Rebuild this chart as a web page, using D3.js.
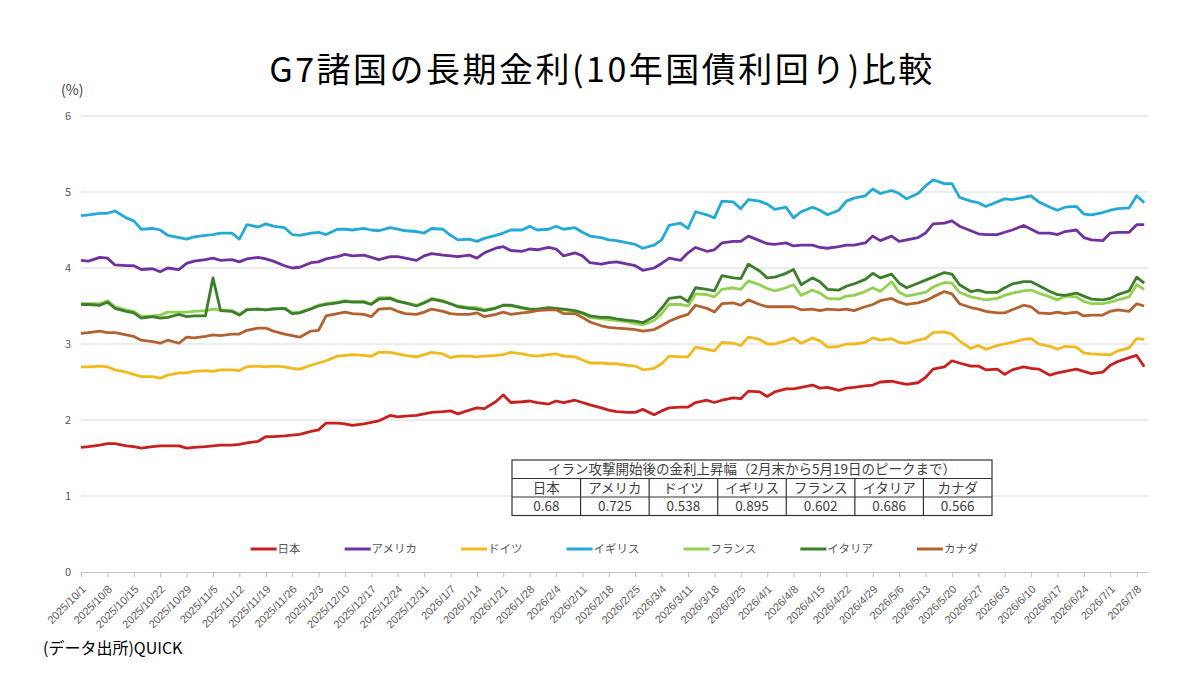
<!DOCTYPE html>
<html>

<head>
	<meta charset="utf-8">
	<script src="https://cdn.jsdelivr.net/npm/d3@7"></script>
	<style>
		body {
			margin: 0;
			background: #fff;
		}

		svg {
			display: block;
			font-family: "Noto Sans CJK JP", "Noto Sans", sans-serif;
		}

		.grid line {
			stroke: #d9d9d9;
			stroke-width: 1;
		}

		.axis text {
			fill: #595959;
			font-size: 11px;
		}

		.line {
			fill: none;
			stroke-width: 2.8;
			stroke-linejoin: round;
		}
	</style>
</head>

<body>
	<svg></svg>
	<script>
		// 月・水・金ごとの読み取り値 (2025/10/1 〜 2026/7/10)
		var japan = [1.64, 1.65,
			1.67, 1.69, 1.69, 1.66, 1.65, 1.63, 1.65, 1.66, 1.66, 1.66, 1.63, 1.64,
			1.65, 1.66, 1.67, 1.67, 1.68, 1.70, 1.72, 1.78, 1.78, 1.79, 1.80, 1.81,
			1.85, 1.87, 1.96, 1.96, 1.95, 1.93, 1.95, 1.97, 1.99, 2.06, 2.04, 2.05,
			2.06, 2.08, 2.10, 2.11, 2.12, 2.08, 2.13, 2.16, 2.15, 2.24, 2.33, 2.23,
			2.24, 2.25, 2.23, 2.21, 2.25, 2.23, 2.26, 2.23, 2.20, 2.16, 2.13, 2.11,
			2.10, 2.10, 2.14, 2.07, 2.12, 2.16, 2.17, 2.17, 2.23, 2.26, 2.23, 2.26,
			2.29, 2.28, 2.38, 2.37, 2.31, 2.37, 2.41, 2.41, 2.43, 2.46, 2.42, 2.43,
			2.39, 2.42, 2.43, 2.45, 2.46, 2.50, 2.51, 2.49, 2.47, 2.49, 2.56, 2.67,
			2.70, 2.78, 2.75, 2.71, 2.71, 2.66, 2.67, 2.60, 2.66, 2.70, 2.68, 2.67,
			2.59, 2.62, 2.64, 2.67, 2.64, 2.61, 2.63, 2.72, 2.77, 2.82, 2.85, 2.70];
		var usa = [4.10, 4.09,
			4.14, 4.13, 4.04, 4.03, 4.03, 3.98, 3.99, 3.95, 4.00, 3.98, 4.06, 4.09,
			4.11, 4.13, 4.10, 4.11, 4.08, 4.12, 4.14, 4.12, 4.09, 4.03, 4.00, 4.01,
			4.07, 4.08, 4.12, 4.15, 4.18, 4.16, 4.17, 4.14, 4.11, 4.15, 4.15, 4.13,
			4.10, 4.16, 4.19, 4.17, 4.16, 4.15, 4.17, 4.13, 4.20, 4.26, 4.28, 4.23,
			4.22, 4.25, 4.24, 4.27, 4.25, 4.16, 4.20, 4.16, 4.07, 4.05, 4.07, 4.08,
			4.05, 4.03, 3.97, 4.00, 4.06, 4.13, 4.10, 4.20, 4.27, 4.22, 4.24, 4.33,
			4.35, 4.35, 4.42, 4.36, 4.32, 4.31, 4.33, 4.29, 4.30, 4.30, 4.27, 4.26,
			4.28, 4.30, 4.30, 4.33, 4.42, 4.36, 4.42, 4.35, 4.37, 4.40, 4.46, 4.58,
			4.59, 4.62, 4.55, 4.49, 4.45, 4.44, 4.44, 4.47, 4.50, 4.56, 4.51, 4.46,
			4.46, 4.44, 4.48, 4.50, 4.40, 4.37, 4.36, 4.46, 4.47, 4.47, 4.57, 4.57];
		var germany = [2.70, 2.70,
			2.71, 2.70, 2.66, 2.63, 2.60, 2.57, 2.57, 2.55, 2.59, 2.62, 2.62, 2.64,
			2.65, 2.64, 2.66, 2.66, 2.65, 2.70, 2.71, 2.70, 2.71, 2.70, 2.68, 2.67,
			2.72, 2.75, 2.78, 2.84, 2.85, 2.86, 2.85, 2.84, 2.89, 2.89, 2.87, 2.85,
			2.83, 2.86, 2.89, 2.87, 2.82, 2.84, 2.84, 2.83, 2.84, 2.85, 2.86, 2.89,
			2.87, 2.85, 2.84, 2.86, 2.87, 2.84, 2.83, 2.79, 2.75, 2.75, 2.74, 2.74,
			2.72, 2.71, 2.66, 2.68, 2.74, 2.84, 2.83, 2.83, 2.96, 2.93, 2.91, 3.02,
			3.01, 2.98, 3.09, 3.06, 3.00, 3.00, 3.04, 3.08, 3.01, 3.08, 3.04, 2.96,
			2.97, 3.00, 3.00, 3.02, 3.08, 3.05, 3.07, 3.02, 3.01, 3.05, 3.07, 3.15,
			3.16, 3.13, 3.04, 2.94, 2.98, 2.93, 2.98, 3.00, 3.02, 3.06, 3.07, 3.00,
			2.97, 2.93, 2.97, 2.96, 2.88, 2.87, 2.86, 2.86, 2.91, 2.95, 3.07, 3.06];
		var uk = [4.69, 4.70,
			4.72, 4.72, 4.75, 4.66, 4.62, 4.51, 4.52, 4.50, 4.43, 4.40, 4.38, 4.41,
			4.43, 4.44, 4.46, 4.46, 4.38, 4.57, 4.54, 4.58, 4.55, 4.53, 4.44, 4.43,
			4.46, 4.47, 4.44, 4.51, 4.51, 4.50, 4.52, 4.50, 4.49, 4.53, 4.51, 4.49,
			4.48, 4.46, 4.52, 4.51, 4.43, 4.37, 4.38, 4.35, 4.39, 4.43, 4.46, 4.50,
			4.50, 4.55, 4.50, 4.51, 4.55, 4.51, 4.53, 4.47, 4.42, 4.40, 4.37, 4.36,
			4.33, 4.31, 4.26, 4.30, 4.37, 4.56, 4.59, 4.52, 4.74, 4.70, 4.66, 4.88,
			4.87, 4.78, 4.90, 4.88, 4.84, 4.77, 4.80, 4.66, 4.74, 4.80, 4.76, 4.70,
			4.76, 4.88, 4.92, 4.95, 5.04, 4.98, 5.02, 4.98, 4.91, 4.98, 5.08, 5.16,
			5.11, 5.11, 4.93, 4.88, 4.86, 4.81, 4.87, 4.91, 4.90, 4.93, 4.95, 4.87,
			4.80, 4.76, 4.80, 4.81, 4.71, 4.70, 4.73, 4.76, 4.78, 4.79, 4.95, 4.86];
		var france = [3.53, 3.53,
			3.53, 3.57, 3.49, 3.45, 3.43, 3.36, 3.37, 3.38, 3.42, 3.42, 3.42, 3.43,
			3.44, 3.46, 3.45, 3.44, 3.39, 3.46, 3.46, 3.45, 3.47, 3.47, 3.41, 3.42,
			3.47, 3.51, 3.53, 3.55, 3.57, 3.56, 3.56, 3.53, 3.61, 3.61, 3.57, 3.54,
			3.51, 3.55, 3.60, 3.57, 3.53, 3.50, 3.48, 3.48, 3.45, 3.48, 3.51, 3.50,
			3.47, 3.45, 3.45, 3.47, 3.46, 3.45, 3.43, 3.40, 3.35, 3.33, 3.32, 3.31,
			3.29, 3.27, 3.25, 3.31, 3.40, 3.52, 3.52, 3.50, 3.66, 3.65, 3.62, 3.72,
			3.74, 3.72, 3.83, 3.78, 3.73, 3.70, 3.74, 3.78, 3.64, 3.71, 3.67, 3.60,
			3.59, 3.63, 3.64, 3.69, 3.74, 3.69, 3.82, 3.68, 3.63, 3.66, 3.68, 3.75,
			3.81, 3.80, 3.68, 3.62, 3.60, 3.58, 3.60, 3.64, 3.67, 3.70, 3.71, 3.67,
			3.62, 3.58, 3.63, 3.62, 3.56, 3.53, 3.53, 3.55, 3.58, 3.62, 3.78, 3.72];
		var italy = [3.52, 3.52,
			3.51, 3.55, 3.47, 3.43, 3.41, 3.34, 3.36, 3.34, 3.35, 3.39, 3.36, 3.37,
			3.37, 3.87, 3.44, 3.43, 3.38, 3.45, 3.46, 3.45, 3.46, 3.47, 3.40, 3.41,
			3.46, 3.50, 3.52, 3.54, 3.56, 3.55, 3.55, 3.52, 3.59, 3.60, 3.56, 3.54,
			3.50, 3.54, 3.59, 3.56, 3.53, 3.49, 3.47, 3.46, 3.44, 3.47, 3.51, 3.51,
			3.48, 3.46, 3.46, 3.48, 3.47, 3.46, 3.44, 3.41, 3.37, 3.35, 3.35, 3.33,
			3.31, 3.30, 3.28, 3.36, 3.47, 3.60, 3.62, 3.56, 3.74, 3.72, 3.70, 3.90,
			3.87, 3.86, 4.05, 3.96, 3.87, 3.88, 3.93, 3.98, 3.78, 3.87, 3.82, 3.72,
			3.71, 3.76, 3.79, 3.85, 3.93, 3.87, 3.92, 3.80, 3.74, 3.80, 3.84, 3.88,
			3.94, 3.92, 3.78, 3.69, 3.71, 3.68, 3.68, 3.74, 3.79, 3.82, 3.82, 3.77,
			3.69, 3.65, 3.64, 3.67, 3.63, 3.59, 3.58, 3.60, 3.65, 3.70, 3.88, 3.80];
		var canada = [3.14, 3.15,
			3.17, 3.15, 3.15, 3.12, 3.10, 3.05, 3.03, 3.01, 3.05, 3.01, 3.09, 3.08,
			3.10, 3.12, 3.11, 3.13, 3.13, 3.18, 3.21, 3.21, 3.17, 3.13, 3.11, 3.09,
			3.17, 3.18, 3.37, 3.40, 3.42, 3.40, 3.39, 3.36, 3.46, 3.47, 3.43, 3.40,
			3.39, 3.42, 3.46, 3.43, 3.40, 3.39, 3.39, 3.41, 3.36, 3.39, 3.42, 3.39,
			3.41, 3.42, 3.44, 3.45, 3.45, 3.40, 3.40, 3.35, 3.29, 3.24, 3.22, 3.21,
			3.20, 3.19, 3.17, 3.19, 3.24, 3.30, 3.36, 3.39, 3.51, 3.47, 3.42, 3.53,
			3.54, 3.51, 3.58, 3.52, 3.49, 3.49, 3.49, 3.49, 3.45, 3.46, 3.44, 3.46,
			3.45, 3.46, 3.44, 3.49, 3.52, 3.57, 3.60, 3.55, 3.52, 3.54, 3.57, 3.62,
			3.69, 3.66, 3.53, 3.48, 3.46, 3.43, 3.41, 3.41, 3.45, 3.51, 3.49, 3.41,
			3.40, 3.42, 3.40, 3.42, 3.37, 3.38, 3.38, 3.43, 3.45, 3.43, 3.53, 3.50];

		var seriesNames = ["日本", "アメリカ", "ドイツ", "イギリス", "フランス", "イタリア", "カナダ"];
		var seriesValues = [japan, usa, germany, uk, france, italy, canada];
		var colors = ["#c8201f", "#7030a0", "#f2b91c", "#22a9d8", "#92d050", "#3b7f2a", "#b3612e"];

		var yTicks = [0, 1, 2, 3, 4, 5, 6];

		var tableTitle = "イラン攻撃開始後の金利上昇幅（2月末から5月19日のピークまで）";
		var tableValues = ["0.68", "0.725", "0.538", "0.895", "0.602", "0.686", "0.566"];

		var width = 1200;
		var height = 675;
		var margins = {
			"left": 81,
			"right": 52,
			"top": 116,
			"bottom": 103
		};

		var svg = d3.select("svg")
			.attr("width", width)
			.attr("height", height);

		svg.append("rect")
			.attr("width", width)
			.attr("height", height)
			.attr("fill", "#fff");

		// 観測日: 月・水・金
		var dates = d3.timeDay.range(new Date(2025, 9, 1), new Date(2026, 6, 11))
			.filter(d => [1, 3, 5].includes(d.getDay()));
		var tickDates = d3.timeWednesday.range(new Date(2025, 9, 1), new Date(2026, 6, 9));

		var xAxis = d3.scaleTime()
			.domain([new Date(2025, 9, 1), new Date(2026, 6, 11)])
			.range([margins.left, width - margins.right]);
		var yAxis = d3.scaleLinear()
			.domain([0, 6])
			.range([height - margins.bottom, margins.top]);

		// title
		svg.append("text")
			.attr("x", 602)
			.attr("y", 82)
			.attr("text-anchor", "middle")
			.attr("font-size", "34px")
			.attr("letter-spacing", "2.5px")
			.attr("fill", "#000")
			.text("G7諸国の長期金利(10年国債利回り)比較");

		svg.append("text")
			.attr("x", 61)
			.attr("y", 95)
			.attr("font-size", "14px")
			.attr("fill", "#404040")
			.text("(%)");

		// grid + y labels
		var grid = svg.append("g").attr("class", "grid axis");
		grid.selectAll("line")
			.data(yTicks.filter(d => d > 0))
			.enter()
			.append("line")
			.attr("x1", margins.left)
			.attr("x2", width - margins.right)
			.attr("y1", d => yAxis(d))
			.attr("y2", d => yAxis(d));
		grid.selectAll("text")
			.data(yTicks)
			.enter()
			.append("text")
			.attr("x", margins.left - 10)
			.attr("y", d => yAxis(d))
			.attr("dy", "0.35em")
			.attr("text-anchor", "end")
			.text(d => d);

		// x axis
		var fmt = d3.timeFormat("%Y/%-m/%-d");
		var xg = svg.append("g")
			.attr("class", "axis")
			.attr("transform", "translate(0," + yAxis(0) + ")")
			.call(d3.axisBottom(xAxis).tickValues(tickDates).tickSize(5).tickSizeOuter(0).tickFormat(fmt));
		xg.select(".domain").attr("stroke", "#bfbfbf");
		xg.selectAll(".tick line").attr("stroke", "#bfbfbf");
		xg.selectAll(".tick text")
			.attr("text-anchor", "end")
			.attr("y", 0)
			.attr("dy", 0)
			.attr("transform", "translate(5,18) rotate(-45)");

		// lines
		var d3line = d3.line()
			.x((d, i) => xAxis(dates[i]))
			.y(d => yAxis(d));

		svg.selectAll(".line")
			.data(seriesValues)
			.enter()
			.append("path")
			.attr("class", "line")
			.attr("stroke", (d, i) => colors[i])
			.attr("d", d => d3line(d.slice(0, dates.length)));

		// table
		var tx = d3.scaleBand()
			.domain(seriesNames)
			.range([512, 992]);
		var rowY = [460, 478.5, 497, 515.5];
		var table = svg.append("g")
			.attr("font-size", "13.5px")
			.attr("fill", "#404040");
		table.append("rect")
			.attr("x", tx.range()[0])
			.attr("y", rowY[0])
			.attr("width", tx.range()[1] - tx.range()[0])
			.attr("height", rowY[3] - rowY[0])
			.attr("fill", "#fff")
			.attr("stroke", "#333")
			.attr("stroke-width", 1.2);
		table.selectAll(".hline")
			.data([rowY[1], rowY[2]])
			.enter()
			.append("line")
			.attr("x1", tx.range()[0])
			.attr("x2", tx.range()[1])
			.attr("y1", d => d)
			.attr("y2", d => d)
			.attr("stroke", "#333")
			.attr("stroke-width", 1.2);
		table.selectAll(".vline")
			.data(seriesNames.slice(1))
			.enter()
			.append("line")
			.attr("x1", d => tx(d))
			.attr("x2", d => tx(d))
			.attr("y1", rowY[1])
			.attr("y2", rowY[3])
			.attr("stroke", "#333")
			.attr("stroke-width", 1.2);
		table.append("text")
			.attr("x", (tx.range()[0] + tx.range()[1]) / 2)
			.attr("y", (rowY[0] + rowY[1]) / 2)
			.attr("dy", "0.36em")
			.attr("text-anchor", "middle")
			.text(tableTitle);
		table.selectAll(".tname")
			.data(seriesNames)
			.enter()
			.append("text")
			.attr("x", d => tx(d) + tx.bandwidth() / 2)
			.attr("y", (rowY[1] + rowY[2]) / 2)
			.attr("dy", "0.36em")
			.attr("text-anchor", "middle")
			.text(d => d);
		table.selectAll(".tval")
			.data(tableValues)
			.enter()
			.append("text")
			.attr("x", (d, i) => tx(seriesNames[i]) + tx.bandwidth() / 2)
			.attr("y", (rowY[2] + rowY[3]) / 2)
			.attr("dy", "0.36em")
			.attr("text-anchor", "middle")
			.text(d => d);

		// legend
		var legend = svg.append("g")
			.attr("font-size", "11.5px")
			.attr("fill", "#595959");
		var items = legend.selectAll("g")
			.data(seriesNames)
			.enter()
			.append("g");
		items.append("line")
			.attr("x1", 0)
			.attr("x2", 26)
			.attr("y1", 0)
			.attr("y2", 0)
			.attr("stroke", (d, i) => colors[i])
			.attr("stroke-width", 3);
		items.append("text")
			.attr("x", 27)
			.attr("dy", "0.36em")
			.text(d => d);
		var offs = [];
		var pos = 0;
		items.each(function () {
			offs.push(pos);
			pos += 27 + this.querySelector("text").getComputedTextLength() + 44;
		});
		var total = pos - 44;
		var lx0 = (margins.left + width - margins.right) / 2 - total / 2;
		items.attr("transform", (d, i) => "translate(" + (lx0 + offs[i]) + ",549)");

		// source
		svg.append("text")
			.attr("x", 43)
			.attr("y", 654)
			.attr("font-size", "16px")
			.attr("fill", "#000")
			.text("(データ出所)QUICK");
	</script>
</body>

</html>
